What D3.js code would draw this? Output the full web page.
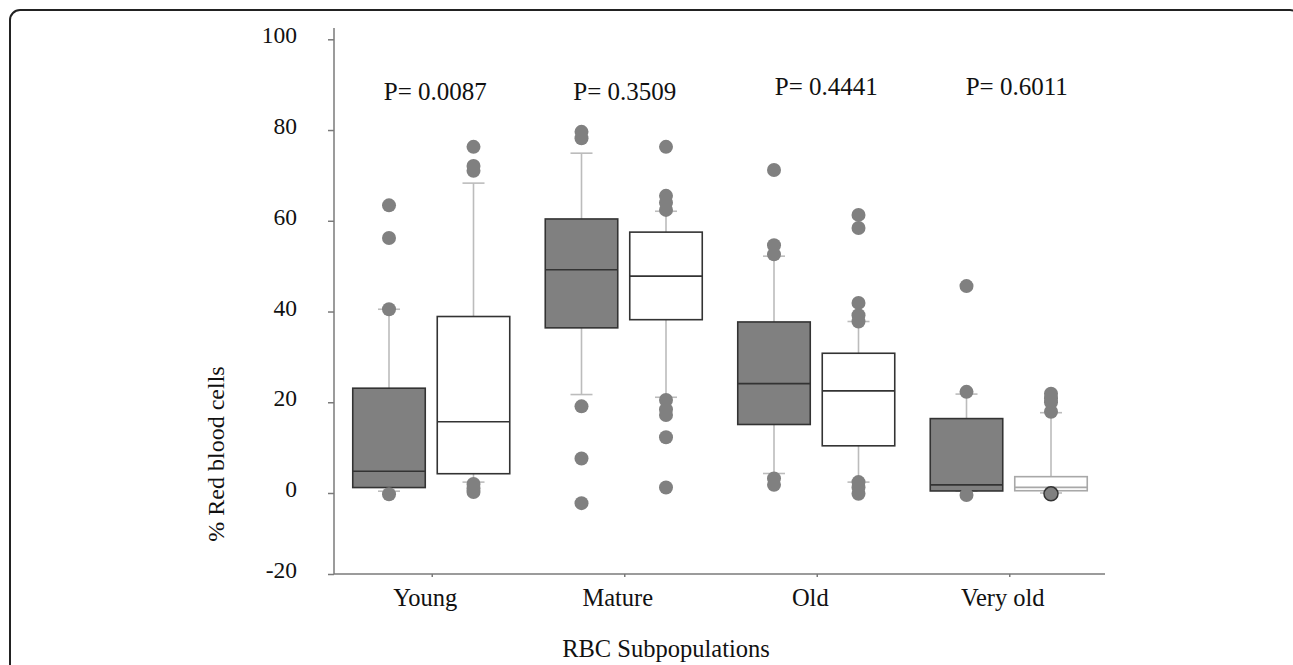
<!DOCTYPE html>
<html>
<head>
<meta charset="utf-8">
<script src="https://cdn.jsdelivr.net/npm/d3@7"></script>
<style>
  body { margin: 0; background: #fff; }
  svg { display: block; }
  text { font-family: "Liberation Serif", "Times New Roman", serif; fill: #111; }
</style>
</head>
<body>
<div class="chart"></div>
<script>
// categories + p values
const categories = ["Young", "Mature", "Old", "Very old"];
const pLabels = ["P= 0.0087", "P= 0.3509", "P= 0.4441", "P= 0.6011"];
const yTicks = [-20, 0, 20, 40, 60, 80, 100];

// grey boxes
const darkLow = [0.4, 21.7, 4.3, 0.4];
const darkQ1 = [1.2, 36.4, 15.1, 0.45];
const darkMedian = [4.8, 49.2, 24.1, 1.8];
const darkQ3 = [23.1, 60.4, 37.7, 16.4];
const darkHigh = [40.5, 74.9, 52.2, 21.8];
const darkOutliers = [
  [63.4, 56.2, 40.5, -0.3],
  [79.6, 78.2, 19.1, 7.6, -2.5],
  [71.2, 54.6, 52.6, 3.2, 1.8],
  [45.6, 22.3, -0.5]
];

// white boxes
const whiteLow = [2.4, 21.1, 2.4, 0.0];
const whiteQ1 = [4.25, 38.2, 10.4, 0.5];
const whiteMedian = [15.7, 47.8, 22.5, 1.25];
const whiteQ3 = [38.9, 57.5, 30.8, 3.6];
const whiteHigh = [68.3, 62.1, 37.8, 17.7];
const whiteOutliers = [
  [76.3, 72.1, 71.0, 2.0, 1.0, 0.2],
  [76.3, 65.5, 64.0, 62.4, 20.5, 18.4, 17.2, 12.3, 1.2],
  [61.3, 58.4, 41.9, 39.2, 37.8, 2.4, 1.2, -0.2],
  [21.9, 20.9, 20.0, 17.9]
];
const whiteExtremes = [[], [], [], [-0.2]];

// layout bits (not data)
const pLabelDx = [3, 0, 9, 7];
const pLabelY = [100, 100, 95, 95];
const faintBoxes = ["Very old"];

const W = 1293, H = 665;

const svg = d3.select(".chart").append("svg")
  .attr("width", W)
  .attr("height", H);

// outer frame
svg.append("rect")
  .attr("x", 10).attr("y", 10)
  .attr("width", 1290).attr("height", 700)
  .attr("rx", 10)
  .attr("fill", "none")
  .attr("stroke", "#222")
  .attr("stroke-width", 2);

const y = d3.scaleLinear().domain([-20, 0, 100]).range([574, 493, 39.3]);
const x = d3.scaleBand().domain(categories).range([336, 1106]);
const sub = d3.scaleBand().domain(["dark", "white"]).range([-79.5, 77.5]).paddingInner(0.142);

// build a table for the boxes
const boxes = [];
categories.forEach((c, i) => {
  boxes.push({ cat: c, grp: "dark", low: darkLow[i], q1: darkQ1[i], med: darkMedian[i], q3: darkQ3[i], high: darkHigh[i], out: darkOutliers[i], ext: [] });
  boxes.push({ cat: c, grp: "white", low: whiteLow[i], q1: whiteQ1[i], med: whiteMedian[i], q3: whiteQ3[i], high: whiteHigh[i], out: whiteOutliers[i], ext: whiteExtremes[i] });
});

const bw = sub.bandwidth();
const cx = d => x(d.cat) + x.bandwidth() / 2 + sub(d.grp) + bw / 2;

// y axis
const yAxis = svg.append("g")
  .attr("transform", "translate(334,0)")
  .call(d3.axisLeft(y).tickValues(yTicks).tickFormat(d => String(d))
    .tickSize(6).tickPadding(31).tickSizeOuter(0));
yAxis.select(".domain").remove();
yAxis.selectAll(".tick line").attr("stroke", "#7a7a7a").attr("stroke-width", 1.5);
yAxis.selectAll(".tick text")
  .attr("dy", "0.15em")
  .style("font-size", "23.5px")
  .style("font-family", "Liberation Serif, serif")
  .attr("fill", "#111");
svg.append("line")
  .attr("x1", 334).attr("x2", 334)
  .attr("y1", 28).attr("y2", 574)
  .attr("stroke", "#7a7a7a").attr("stroke-width", 1.5);

// x axis
const xAxis = svg.append("g")
  .attr("transform", "translate(0,574)")
  .call(d3.axisBottom(x).tickSize(3).tickPadding(12).tickSizeOuter(0));
xAxis.select(".domain").remove();
xAxis.selectAll(".tick line").attr("stroke", "#7a7a7a").attr("stroke-width", 1.5);
xAxis.selectAll(".tick text")
  .attr("dx", -7)
  .attr("dy", "0.71em")
  .style("font-size", "24.5px")
  .style("font-family", "Liberation Serif, serif")
  .attr("fill", "#111");
svg.append("line")
  .attr("x1", 334).attr("x2", 1105)
  .attr("y1", 574).attr("y2", 574)
  .attr("stroke", "#7a7a7a").attr("stroke-width", 1.5);

// whiskers
const g = svg.append("g");
const whiskColor = "#bcbcbc";

g.selectAll(".whisk").data(boxes).enter().append("line")
  .attr("class", "whisk")
  .attr("x1", cx).attr("x2", cx)
  .attr("y1", d => y(d.high)).attr("y2", d => y(d.low))
  .attr("stroke", whiskColor).attr("stroke-width", 1.6);

g.selectAll(".capHi").data(boxes).enter().append("line")
  .attr("class", "capHi")
  .attr("x1", d => cx(d) - 11).attr("x2", d => cx(d) + 11)
  .attr("y1", d => y(d.high)).attr("y2", d => y(d.high))
  .attr("stroke", whiskColor).attr("stroke-width", 1.6);

g.selectAll(".capLo").data(boxes).enter().append("line")
  .attr("class", "capLo")
  .attr("x1", d => cx(d) - 11).attr("x2", d => cx(d) + 11)
  .attr("y1", d => y(d.low)).attr("y2", d => y(d.low))
  .attr("stroke", whiskColor).attr("stroke-width", 1.6);

// boxes
const faint = d => d.grp === "white" && faintBoxes.includes(d.cat);
g.selectAll(".box").data(boxes).enter().append("rect")
  .attr("class", "box")
  .attr("x", d => cx(d) - bw / 2)
  .attr("width", bw)
  .attr("y", d => y(d.q3))
  .attr("height", d => y(d.q1) - y(d.q3))
  .attr("fill", d => d.grp === "dark" ? "#808080" : "#fff")
  .attr("stroke", d => faint(d) ? "#a8a8a8" : "#333")
  .attr("stroke-width", 1.6);

g.selectAll(".med").data(boxes).enter().append("line")
  .attr("class", "med")
  .attr("x1", d => cx(d) - bw / 2).attr("x2", d => cx(d) + bw / 2)
  .attr("y1", d => y(d.med)).attr("y2", d => y(d.med))
  .attr("stroke", d => faint(d) ? "#a8a8a8" : "#333")
  .attr("stroke-width", 1.6);

// outliers
const pts = [];
boxes.forEach(b => {
  b.out.forEach(v => pts.push({ b: b, v: v, ext: false }));
  b.ext.forEach(v => pts.push({ b: b, v: v, ext: true }));
});
g.selectAll(".dot").data(pts).enter().append("circle")
  .attr("class", "dot")
  .attr("cx", d => cx(d.b))
  .attr("cy", d => y(d.v))
  .attr("r", 7)
  .attr("fill", "#808080")
  .attr("stroke", d => d.ext ? "#333" : "none")
  .attr("stroke-width", 1.5);

// p values
svg.selectAll(".pval").data(pLabels).enter().append("text")
  .attr("class", "pval")
  .attr("x", (d, i) => x(categories[i]) + x.bandwidth() / 2 + pLabelDx[i])
  .attr("y", (d, i) => pLabelY[i])
  .attr("text-anchor", "middle")
  .style("font-size", "25px")
  .text(d => d);

// axis titles
svg.append("text")
  .attr("transform", "translate(224,454) rotate(-90)")
  .attr("text-anchor", "middle")
  .style("font-size", "24px")
  .text("% Red blood cells");

svg.append("text")
  .attr("x", 666)
  .attr("y", 657)
  .attr("text-anchor", "middle")
  .style("font-size", "24.5px")
  .text("RBC Subpopulations");
</script>
</body>
</html>
